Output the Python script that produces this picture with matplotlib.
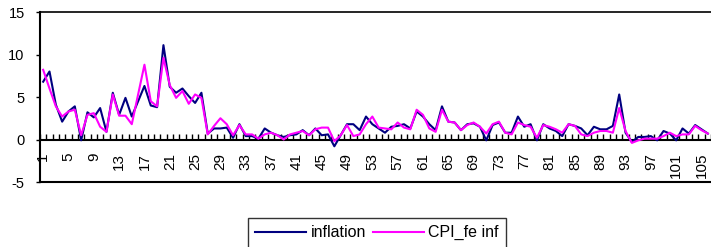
import matplotlib
matplotlib.use("Agg")
import matplotlib.pyplot as plt
import numpy as np

plt.rcParams['font.family'] = ['Liberation Sans', 'DejaVu Sans']

inflation = [6.8, 8.0, 4.1, 2.1, 3.3, 3.9, -0.1, 3.2, 2.6, 3.7,
             0.9, 5.5, 2.9, 4.9, 2.7, 4.5, 6.3, 4.0, 3.8, 11.1,
             6.2, 5.5, 6.0, 5.1, 4.3, 5.5, 0.7, 1.3, 1.3, 1.4,
             0.2, 1.8, 0.4, 0.4, 0.1, 1.3, 0.8, 0.5, 0.3, 0.5,
             0.6, 1.1, 0.5, 1.3, 0.5, 0.6, -0.8, 0.5, 1.8, 1.8,
             1.1, 2.7, 1.8, 1.3, 0.8, 1.5, 1.6, 1.8, 1.3, 3.3,
             2.7, 1.8, 1.1, 3.9, 2.1, 2.0, 1.1, 1.8, 1.9, 1.5,
             -0.1, 1.7, 2.0, 0.8, 0.8, 2.7, 1.5, 1.8, -0.1, 1.8,
             1.3, 1.0, 0.4, 1.8, 1.6, 1.3, 0.5, 1.5, 1.2, 1.2,
             1.6, 5.3, 0.8, -0.3, 0.3, 0.3, 0.4, -0.1, 1.0, 0.7,
             -0.1, 1.3, 0.7, 1.7, 1.2, 0.7]

cpi_fe_inf = [8.2, 6.0, 3.9, 2.7, 3.3, 3.5, 0.5, 2.9, 3.1, 1.5,
              0.9, 5.3, 2.8, 2.8, 1.8, 5.3, 8.8, 4.5, 3.9, 9.6,
              6.4, 4.9, 5.7, 4.2, 5.3, 4.9, 0.6, 1.6, 2.5, 1.8,
              0.5, 1.7, 0.6, 0.6, 0.1, 0.6, 0.8, 0.5, 0.0, 0.6,
              0.8, 1.0, 0.5, 1.2, 1.4, 1.4, -0.2, 0.5, 1.7, 0.4,
              0.6, 1.8, 2.7, 1.4, 1.3, 1.2, 2.0, 1.4, 1.2, 3.5,
              2.9, 1.3, 0.9, 3.5, 2.1, 2.0, 1.1, 1.7, 2.0, 1.5,
              0.7, 1.8, 2.1, 0.8, 0.6, 2.0, 1.7, 1.5, 0.2, 1.7,
              1.5, 1.2, 0.8, 1.8, 1.6, 0.6, 0.4, 0.8, 1.0, 1.0,
              0.8, 3.7, 1.0, -0.4, -0.1, 0.1, 0.1, 0.1, 0.4, 0.8,
              0.4, 0.6, 0.6, 1.6, 1.1, 0.7]

series_names = ["inflation", "CPI_fe inf"]
y_ticks = [-5, 0, 5, 10, 15]

x = np.arange(1, len(inflation) + 1)

fig = plt.figure(figsize=(7.11, 2.47), dpi=100)
ax = fig.add_axes([40 / 711, 1 - 182 / 247, 1 - 40 / 711, (182 - 12) / 247])

ax.plot(x, inflation, color='#000080', lw=1.5, label=series_names[0], zorder=3)
ax.plot(x, cpi_fe_inf, color='#FF00FF', lw=1.5, label=series_names[1], zorder=4)

ax.set_ylim(-5, 15)
ax.set_xlim(0.55, 105.95)
ax.set_yticks(y_ticks)
ax.set_yticklabels([str(v) for v in y_ticks])
ax.tick_params(axis='y', direction='out', length=3, width=1, pad=8, labelsize=10.5)

labels_pos = x[::4]
ax.set_xticks(labels_pos)
ax.set_xticklabels([str(v) for v in labels_pos])
ax.set_xticks(np.arange(0.5, len(x) + 1, 1), minor=True)
ax.tick_params(axis='x', which='major', length=0, pad=9.5, labelrotation=90, labelsize=11)
ax.tick_params(axis='x', which='minor', direction='in', length=4, width=1)
for lab in ax.get_xticklabels():
    lab.set_verticalalignment('top')
    lab.set_horizontalalignment('center')

ax.spines['bottom'].set_position(('data', 0))
ax.spines['bottom'].set_linewidth(1.5)
ax.spines['left'].set_linewidth(1.5)
ax.spines['right'].set_visible(False)
ax.spines['top'].set_linewidth(1.2)
ax.axhline(-5, color='black', lw=1.5, clip_on=False, zorder=5)

fig.legend(loc='upper left', bbox_to_anchor=(248 / 711, 1 - 218 / 247),
           ncol=2, fontsize=11.5, frameon=True, fancybox=False,
           edgecolor='black', handlelength=3.2, handletextpad=0.26,
           columnspacing=0.45, borderpad=0.45, borderaxespad=0)
leg = fig.legends[0]
leg.get_frame().set_linewidth(1.0)

fig.savefig("out.png", dpi=100)
